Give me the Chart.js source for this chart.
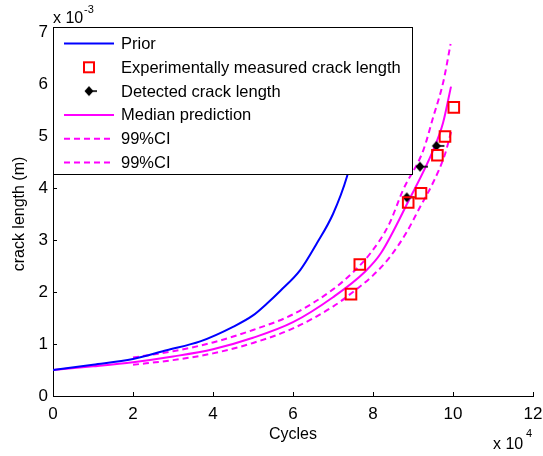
<!DOCTYPE html>
<html>
<head>
<meta charset="utf-8">
<script src="https://cdn.jsdelivr.net/npm/chart.js@4.4.0/dist/chart.umd.min.js"></script>
<style>
  html, body { margin: 0; padding: 0; background: #fff; }
  #wrap { width: 543px; height: 456px; }
</style>
</head>
<body>
<div id="wrap"><canvas id="c" width="543" height="456"></canvas></div>
<script>
// Cycles are in units of 1e4, crack length in units of 1e-3 m
const priorX = [0, 1, 2, 2.84, 3.68, 4.5, 5.0, 5.35, 5.68, 6.18, 6.6, 7.0, 7.35, 7.6, 7.85, 8.05];
const priorY = [0.5, 0.6, 0.71, 0.88, 1.05, 1.33, 1.55, 1.78, 2.02, 2.42, 2.94, 3.5, 4.22, 5.0, 6.0, 7.0];

const measuredX = [7.45, 7.67, 8.88, 9.2, 9.61, 9.8, 10.02];
const measuredY = [1.96, 2.53, 3.72, 3.9, 4.63, 4.99, 5.55];

const detectedX = [8.87, 9.2, 9.61];
const detectedY = [3.82, 4.41, 4.81];

const medianX = [0, 1, 2, 3, 4, 5, 6, 7, 7.8, 8.2, 8.9, 9.5, 9.75, 9.95];
const medianY = [0.5, 0.57, 0.65, 0.76, 0.9, 1.12, 1.42, 1.9, 2.39, 2.75, 3.77, 4.72, 5.25, 5.95];

const upperX = [2, 3, 4, 5, 6, 7, 7.5, 7.93, 8.4, 8.75, 9.26, 9.5, 9.76, 9.94];
const upperY = [0.74, 0.86, 1.03, 1.27, 1.57, 2.05, 2.38, 2.74, 3.3, 3.96, 4.73, 5.35, 6.05, 6.77];

const lowerX = [2, 3, 4, 5, 6, 7, 7.5, 8.0, 8.43, 8.84, 9.18, 9.5, 9.8, 9.96];
const lowerY = [0.6, 0.69, 0.82, 1.02, 1.3, 1.72, 2.0, 2.32, 2.68, 3.15, 3.64, 4.1, 4.65, 5.1];

const xTicks = [0, 2, 4, 6, 8, 10, 12];
const yTicks = [0, 1, 2, 3, 4, 5, 6, 7];

const labels = ['Prior', 'Experimentally measured crack length', 'Detected crack length',
                'Median prediction', '99%CI', '99%CI'];

const FONT = "'Liberation Sans', Arial, Helvetica, sans-serif";
const MAGENTA = '#ff00ff';

const pts = (xs, ys) => xs.map((x, i) => ({ x: x, y: ys[i] }));

// small filled marker with a short tail, used for detected lengths
function makeDetectedMarker() {
  const m = document.createElement('canvas');
  m.width = 16; m.height = 12;
  const g = m.getContext('2d');
  g.fillStyle = '#000';
  g.beginPath();
  g.moveTo(7, 1); g.lineTo(11.5, 6); g.lineTo(7, 11); g.lineTo(2.5, 6); g.closePath();
  g.fill();
  g.fillRect(10, 5.2, 5, 1.6);
  return m;
}
const detectedMarker = makeDetectedMarker();

const lineCommon = { pointRadius: 0, showLine: true, fill: false, cubicInterpolationMode: 'monotone', kind: 'line' };

const datasets = [
  Object.assign({ label: labels[0], data: pts(priorX, priorY), borderColor: '#0000ff', borderWidth: 2 }, lineCommon),
  { label: labels[1], data: pts(measuredX, measuredY), borderColor: '#ff0000', backgroundColor: 'rgba(0,0,0,0)',
    pointStyle: 'rect', pointRadius: 7.5, pointBorderWidth: 2, showLine: false, kind: 'square' },
  { label: labels[2], data: pts(detectedX, detectedY), pointStyle: detectedMarker,
    showLine: false, kind: 'detected' },
  Object.assign({ label: labels[3], data: pts(medianX, medianY), borderColor: MAGENTA, borderWidth: 2 }, lineCommon),
  Object.assign({ label: labels[4], data: pts(upperX, upperY), borderColor: MAGENTA, borderWidth: 2, borderDash: [6, 4] }, lineCommon),
  Object.assign({ label: labels[5], data: pts(lowerX, lowerY), borderColor: MAGENTA, borderWidth: 2, borderDash: [6, 4] }, lineCommon)
];

// inward tick marks on the left and bottom axes
const inwardTicks = {
  id: 'inwardTicks',
  afterDatasetsDraw(chart) {
    const { ctx, chartArea: a, scales: { x, y } } = chart;
    ctx.save();
    ctx.strokeStyle = '#000';
    ctx.lineWidth = 1;
    ctx.beginPath();
    x.ticks.forEach((t, i) => {
      const px = Math.round(x.getPixelForTick(i)) + 0.5;
      ctx.moveTo(px, a.bottom); ctx.lineTo(px, a.bottom - 4);
    });
    y.ticks.forEach((t, i) => {
      const py = Math.round(y.getPixelForTick(i)) + 0.5;
      ctx.moveTo(a.left, py); ctx.lineTo(a.left + 4, py);
    });
    ctx.stroke();
    ctx.restore();
  }
};

// boxed legend in the upper-left corner, plus the axis multipliers
const boxedLegend = {
  id: 'boxedLegend',
  afterDraw(chart) {
    const { ctx, chartArea: a } = chart;
    ctx.save();
    const left = a.left, top = 27, width = 359, height = 147;
    ctx.fillStyle = '#fff';
    ctx.fillRect(left, top, width, height);
    ctx.strokeStyle = '#000';
    ctx.lineWidth = 1;
    ctx.strokeRect(left + 0.5, top + 0.5, width, height);

    ctx.font = '16.5px ' + FONT;
    ctx.textBaseline = 'middle';
    ctx.textAlign = 'left';
    const rowH = 23.8;
    chart.data.datasets.forEach((ds, i) => {
      const cy = top + 16.5 + i * rowH;
      const x0 = left + 11, x1 = left + 61, cx = left + 36;
      if (ds.kind === 'line') {
        ctx.save();
        ctx.strokeStyle = ds.borderColor;
        ctx.lineWidth = ds.borderWidth;
        ctx.setLineDash(ds.borderDash || []);
        ctx.beginPath(); ctx.moveTo(x0, cy); ctx.lineTo(x1, cy); ctx.stroke();
        ctx.restore();
      } else if (ds.kind === 'square') {
        ctx.save();
        ctx.strokeStyle = ds.borderColor;
        ctx.lineWidth = 2;
        ctx.strokeRect(cx - 5, cy - 5, 10, 10);
        ctx.restore();
      } else {
        ctx.drawImage(detectedMarker, cx - 7, cy - 6);
      }
      ctx.fillStyle = '#000';
      ctx.fillText(ds.label, left + 68, cy + 1);
    });

    // axis multipliers
    ctx.textBaseline = 'alphabetic';
    ctx.font = '16px ' + FONT;
    ctx.fillText('x 10', 53, 23);
    ctx.font = '11px ' + FONT;
    ctx.fillText('-3', 84, 13);
    ctx.font = '16px ' + FONT;
    ctx.fillText('x 10', 493, 449);
    ctx.font = '11px ' + FONT;
    ctx.fillText('4', 526, 437);
    ctx.restore();
  }
};

new Chart(document.getElementById('c'), {
  type: 'scatter',
  data: { datasets: datasets },
  options: {
    responsive: false,
    animation: false,
    devicePixelRatio: 1,
    layout: { padding: { left: 0, right: 10, top: 32, bottom: 0 } },
    plugins: { legend: { display: false }, tooltip: { enabled: false } },
    scales: {
      x: {
        type: 'linear', min: 0, max: 12,
        afterBuildTicks: (s) => { s.ticks = xTicks.map(v => ({ value: v })); },
        afterFit: (s) => { s.height = 60; s.paddingLeft = 0; s.paddingRight = 0; },
        ticks: { color: '#000', font: { family: FONT, size: 17 }, padding: 8, maxRotation: 0, autoSkip: false },
        grid: { display: true, drawOnChartArea: false, drawTicks: false },
        border: { display: true, color: '#000', width: 1 },
        title: { display: true, text: 'Cycles', color: '#000', font: { family: FONT, size: 16 }, padding: { top: 0, bottom: 12 } }
      },
      y: {
        type: 'linear', min: 0, max: 7,
        afterBuildTicks: (s) => { s.ticks = yTicks.map(v => ({ value: v })); },
        afterFit: (s) => { s.width = 53; s.paddingTop = 0; s.paddingBottom = 0; },
        ticks: { color: '#000', font: { family: FONT, size: 17 }, padding: 5 },
        grid: { display: true, drawOnChartArea: false, drawTicks: false },
        border: { display: true, color: '#000', width: 1 },
        title: { display: true, text: 'crack length (m)', color: '#000', font: { family: FONT, size: 16 }, padding: { top: 10, bottom: 0 } }
      }
    }
  },
  plugins: [inwardTicks, boxedLegend]
});
</script>
</body>
</html>
